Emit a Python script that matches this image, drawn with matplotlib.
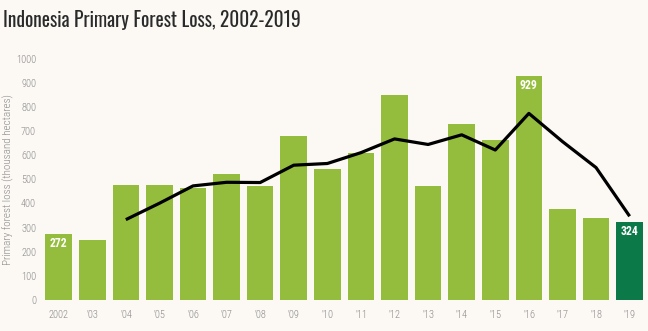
import numpy as np
import matplotlib.pyplot as plt
from matplotlib import font_manager

years = ['2002', "'03", "'04", "'05", "'06", "'07", "'08", "'09", "'10",
         "'11", "'12", "'13", "'14", "'15", "'16", "'17", "'18", "'19"]
loss = [272, 249, 477, 477, 465, 523, 473, 680, 544,
        610, 851, 473, 730, 664, 929, 378, 340, 324]
# 3-year running average line, starts at '04
avg_years = years[2:]
avg_loss = [333, 401, 473, 488, 487, 559, 566, 611, 668,
            645, 685, 622, 774, 657, 549, 347]
labeled = {0: '272', 14: '929', 17: '324'}

names = {f.name for f in font_manager.fontManager.ttflist}


def pick(cands):
    for c in cands:
        if c in names:
            return c
    return 'DejaVu Sans'


narrow = pick(['Roboto Condensed', 'Barlow Condensed', 'Archivo Narrow'])
title_font = pick(['Oswald Light', 'Oswald ExtraLight', 'Oswald',
                   'Barlow Condensed', 'Roboto Condensed'])

bg = '#fcf9f5'
light = '#95bd3d'
dark = '#0b7a48'
grey = '#8a8a8a'

fig = plt.figure(figsize=(6.48, 3.31), dpi=100, facecolor=bg)
ax = fig.add_axes([0.062, 0.094, 0.933, 0.728], facecolor=bg)

x = np.arange(len(years))
colors = [light] * (len(years) - 1) + [dark]
ax.bar(x, loss, width=0.79, color=colors, zorder=2)

xa = x[2:]
ax.plot(xa, avg_loss, color='black', lw=2.3, zorder=3, solid_capstyle='butt')

for i, txt in labeled.items():
    ax.text(x[i], loss[i] - 12, txt, ha='center', va='top', color='white',
            fontsize=8.5, fontweight='bold', family=narrow, zorder=4)

ax.set_xlim(-0.55, 17.45)
ax.set_ylim(0, 1000)
ax.set_yticks(range(0, 1001, 100))
ax.set_xticks(x)
ax.set_xticklabels(years)
ax.tick_params(length=0, colors=grey, labelsize=7.5, pad=7)
ax.tick_params(axis='y', pad=3)
for lab in ax.get_xticklabels() + ax.get_yticklabels():
    lab.set_family(narrow)
    lab.set_fontweight('light')
for s in ax.spines.values():
    s.set_visible(False)

ax.set_ylabel('Primary forest loss (thousand hectares)', color=grey,
              fontsize=8, family=narrow, fontweight='light')
ax.yaxis.set_label_coords(-0.044, 0.5)

fig.text(0.005, 0.94, 'Indonesia Primary Forest Loss, 2002-2019', fontsize=14,
         family=title_font, fontweight='light', color='#2a2a2a', va='center', ha='left')

plt.savefig('out.png', dpi=100, facecolor=bg)
